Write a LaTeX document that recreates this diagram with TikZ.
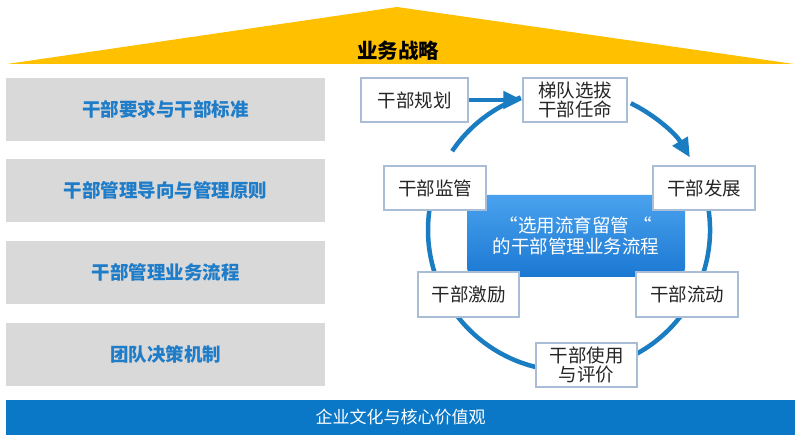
\documentclass[tikz,border=0pt]{standalone}
\usepackage{fontspec}
\setmainfont{Noto Sans CJK SC}
\usetikzlibrary{arrows.meta,calc}
\definecolor{roofy}{HTML}{FFC000}
\definecolor{grayb}{HTML}{D9D9D9}
\definecolor{lblue}{HTML}{1E7CC8}
\definecolor{barblue}{HTML}{0B78C7}
\definecolor{cblue}{HTML}{1A7CC1}
\definecolor{boxtop}{HTML}{4AA2EE}
\definecolor{boxbot}{HTML}{1B78D2}
\definecolor{edgeb}{HTML}{A9BED6}
\definecolor{txt}{HTML}{262626}
\tikzset{
  leftbox/.style={fill=grayb, draw=none, minimum width=319pt, minimum height=63pt,
    inner sep=0pt, text=lblue, font=\fontsize{18.5}{20}\selectfont\bfseries},
  stagebox/.style={fill=white, draw=edgeb, line width=1.2pt, minimum width=102pt,
    minimum height=44pt, inner sep=0pt, text=txt, align=center,
    font=\fontsize{18.5}{22}\selectfont},
  ring/.style={draw=cblue, line width=4.5pt},
  ringarrow/.style={ring, -{Triangle[length=19pt, width=17pt]}},
}
\begin{document}
\begin{tikzpicture}[x=1pt, y=1pt]
\useasboundingbox (0,0) rectangle (800,441);
% roof
\fill[roofy] (7,377) -- (397,434) -- (794,377) -- cycle;
\node[font=\fontsize{20.5}{22}\selectfont\bfseries, text=black] (roof) at (398,390) {业务战略};
% left boxes
\node[leftbox] (l1) at (165.5,331.5) {干部要求与干部标准};
\node[leftbox] (l2) at (165.5,250.5) {干部管理导向与管理原则};
\node[leftbox] (l3) at (165.5,168.5) {干部管理业务流程};
\node[leftbox] (l4) at (165.5,86.5) {团队决策机制};
% bottom bar
\node[fill=barblue, minimum width=789pt, minimum height=35pt, inner sep=0pt,
  text=white, font=\fontsize{17}{20}\selectfont] (bar) at (400.5,23.5) {企业文化与核心价值观};
% ring
\coordinate (c) at (569,211);
\coordinate (a1) at ($(c)+(146:141)$);
\coordinate (a2) at ($(c)+(64:141)$);
\coordinate (a3) at ($(c)+(20:141)$);
\draw[ring] (a1) arc[start angle=146, end angle=110, radius=141];
\draw[ringarrow] (a2) arc[start angle=64, end angle=31, radius=141];
\draw[ring] (a3) arc[start angle=20, end angle=-200, radius=141];
% central box
\node[rounded corners=9pt, top color=boxtop, bottom color=boxbot, draw=none,
  minimum width=218pt, minimum height=82pt, inner sep=0pt, text=white, align=center,
  font=\fontsize{18.5}{21.5}\selectfont] (core) at (576,205) {“选用流育留管 “\\的干部管理业务流程};
% stage boxes
\node[stagebox, minimum width=107pt] (plan) at (414.5,341) {干部规划};
\node[stagebox, minimum width=104pt, font=\fontsize{18.5}{19}\selectfont] (pick) at (575,341) {梯队选拔\\干部任命};
\node[stagebox] (sup) at (435,253) {干部监管};
\node[stagebox] (dev) at (704,253) {干部发展};
\node[stagebox, minimum width=101pt, minimum height=45pt] (inc) at (468.5,146.5) {干部激励};
\node[stagebox, minimum height=45pt] (flow) at (687,146.5) {干部流动};
\node[stagebox, minimum width=101pt, font=\fontsize{18.5}{19}\selectfont] (use) at (586.5,76) {干部使用\\与评价};
% straight arrow
\draw[ringarrow] (plan.east) -- (pick.west);
\end{tikzpicture}
\end{document}
